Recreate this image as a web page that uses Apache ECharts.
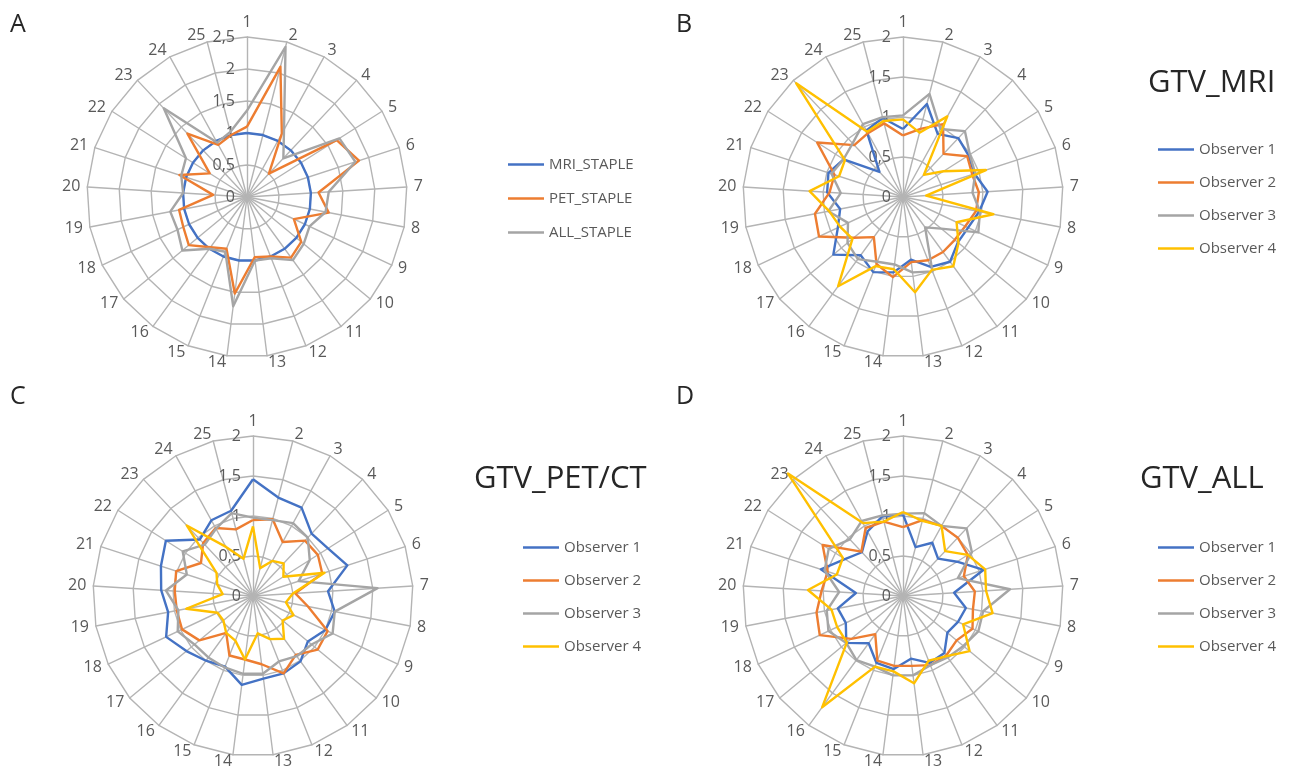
<!DOCTYPE html>
<html>
<head>
<meta charset="utf-8">
<script src="https://cdn.jsdelivr.net/npm/echarts@6/dist/echarts.min.js"></script>
<style>
  html, body { margin: 0; padding: 0; background: #fff; }
  #main { width: 1289px; height: 767px; }
</style>
</head>
<body>
<div id="main"></div>
<script>
var cases = ['1','2','3','4','5','6','7','8','9','10','11','12','13','14','15','16','17','18','19','20','21','22','23','24','25'];

// A - STAPLE
var mriStaple = [1,1,1,1,1,1,1,1,1,1,1,1,1,1,1,1,1,1,1,1,1,1,1,1,1];
var petStaple = [1.1,2.1,1.13,0.5,1.66,1.84,1.12,1.3,0.81,1.1,1.17,1.0,0.95,1.52,0.87,0.97,1.18,1.1,1.08,0.53,1.11,0.69,1.36,0.93,1.0];
var allStaple = [1.35,2.42,1.2,0.83,1.71,1.78,1.28,1.25,1.08,1.15,1.22,1.03,1.0,1.72,0.92,1.0,1.31,1.2,1.22,1.0,1.08,1.13,1.9,0.97,1.05];

// B - GTV_MRI
var mriObs1 = [0.85,1.2,0.9,1.01,0.97,0.94,1.06,0.97,0.9,0.89,1.0,0.94,0.79,0.95,1.01,0.9,1.13,0.9,0.8,0.95,0.98,0.88,0.43,0.95,1.02];
var mriObs2 = [0.77,0.88,1.04,0.74,0.95,0.91,0.95,0.93,0.86,0.84,0.85,0.85,0.82,1.01,0.9,0.62,0.8,1.16,1.12,0.92,0.9,1.27,0.89,0.91,0.95];
var mriObs3 = [1.02,1.33,0.97,1.13,0.99,0.95,0.87,0.98,1.04,0.62,0.47,1.0,0.95,0.85,0.87,0.96,0.9,0.76,0.95,0.78,0.94,0.88,0.92,1.04,1.03];
var mriObs4 = [0.97,0.83,1.15,0.38,0.6,1.09,0.29,1.15,0.74,0.9,1.07,0.98,1.2,0.91,0.93,1.38,0.82,0.87,0.94,1.17,0.84,0.86,1.95,0.93,0.98];

// C - GTV_PET/CT
var petObs1 = [1.46,1.27,1.26,1.07,1.11,1.24,0.94,1.04,1.0,0.89,1.01,1.04,1.04,1.12,0.95,1.0,1.08,1.2,1.08,1.15,1.21,1.29,0.97,1.08,1.1];
var petObs2 = [0.95,0.99,0.77,0.95,0.96,0.91,0.53,0.7,1.03,1.05,0.91,1.04,0.86,0.8,0.8,0.57,0.87,0.98,0.97,0.98,1.01,0.77,0.91,0.97,0.86];
var petObs3 = [0.98,0.98,1.04,1.0,0.84,0.6,1.56,1.04,1.1,0.95,0.93,0.88,0.98,0.98,0.96,0.95,0.95,1.04,0.95,1.09,0.87,1.04,0.88,0.96,1.07];
var petObs4 = [0.87,0.36,0.5,0.56,0.45,0.94,0.5,0.42,0.56,0.48,0.66,0.58,0.47,0.8,0.6,0.57,0.48,0.49,0.85,0.38,0.47,0.54,1.21,0.7,0.48];

// D - GTV_ALL
var allObs1 = [1.02,0.63,0.76,0.64,0.8,1.06,0.64,0.8,0.76,0.72,0.88,0.9,0.79,0.92,0.9,0.73,0.92,0.79,0.83,0.59,1.08,0.86,0.75,0.92,1.03];
var allObs2 = [0.86,0.98,1.0,1.0,0.96,0.8,0.9,0.89,0.96,0.87,0.92,0.93,0.88,0.88,0.87,0.59,0.84,1.15,1.1,1.02,0.99,1.19,0.76,0.97,0.96];
var allObs3 = [1.03,1.07,1.0,1.16,1.02,0.72,1.34,1.02,1.04,0.98,0.95,0.93,1.0,1.0,0.95,0.99,0.92,1.03,0.97,0.8,1.03,1.1,0.97,1.07,1.04];
var allObs4 = [1.05,0.97,1.0,0.77,0.96,1.08,1.04,1.14,0.83,1.08,0.93,0.87,1.1,0.95,0.95,1.72,0.91,0.91,0.91,1.19,0.87,0.89,2.1,1.04,0.96];

var observers = ['Observer 1','Observer 2','Observer 3','Observer 4'];
var staples = ['MRI_STAPLE','PET_STAPLE','ALL_STAPLE'];
var colors = ['#4472C4','#ED7D31','#A5A5A5','#FFC000'];

var font = '"Open Sans", sans-serif';
var textColor = '#595959';
var gridColor = '#b4b4b4';

// echarts radar runs counter-clockwise, Excel runs clockwise: 1, 25, 24 ... 2
var order = [0];
for (var i = cases.length - 1; i > 0; i--) order.push(i);
function reorder(arr) { return order.map(function (i) { return arr[i]; }); }

function makeRadar(center, max) {
    return {
        center: center,
        radius: 160,
        startAngle: 90,
        shape: 'polygon',
        splitNumber: Math.round(max / 0.5),
        indicator: order.map(function (i, k) {
            var ind = { name: cases[i], min: 0, max: max };
            if (k === 0) ind.axisLabel = { show: true };
            return ind;
        }),
        axisName: { color: textColor, fontSize: 16, fontFamily: font },
        nameGap: 7,
        axisLine: { lineStyle: { color: gridColor, width: 1.4 } },
        splitLine: { lineStyle: { color: gridColor, width: 1.4 } },
        splitArea: { show: false },
        axisTick: { show: false },
        axisLabel: {
            show: false,
            color: textColor,
            fontSize: 16,
            fontFamily: font,
            margin: 12,
            formatter: function (v) { return String(v).replace('.', ','); }
        }
    };
}

function makeSeries(radarIndex, names, lists) {
    return lists.map(function (vals, k) {
        return {
            type: 'radar',
            radarIndex: radarIndex,
            name: names[k],
            symbol: 'none',
            silent: true,
            itemStyle: { color: colors[k] },
            lineStyle: { color: colors[k], width: 2.4 },
            data: [{ name: names[k], value: reorder(vals) }]
        };
    });
}

function makeLegend(names, left, top, gap) {
    return {
        data: names,
        orient: 'vertical',
        left: left,
        top: top,
        icon: 'rect',
        itemWidth: 36,
        itemHeight: 2.5,
        itemGap: gap,
        selectedMode: false,
        textStyle: { color: textColor, fontSize: 15, fontFamily: font }
    };
}

function label(text, left, top, size) {
    return { text: text, left: left, top: top, padding: 0,
             textStyle: { color: '#262626', fontSize: size, fontWeight: 'normal', fontFamily: font } };
}

var chart = echarts.init(document.getElementById('main'));
chart.setOption({
    backgroundColor: '#fff',
    animation: false,
    title: [
        label('A', 10, 12, 25),
        label('B', 676, 12, 25),
        label('C', 10, 384, 25),
        label('D', 676, 384, 25),
        label('GTV_MRI', 1148, 68, 31),
        label('GTV_PET/CT', 474, 464, 31),
        label('GTV_ALL', 1140, 464, 31)
    ],
    legend: [
        makeLegend(staples, 503, 152, 19),
        makeLegend(observers, 1153, 137, 18),
        makeLegend(observers, 518, 535, 18),
        makeLegend(observers, 1153, 535, 18)
    ],
    radar: [
        makeRadar([247, 197], 2.5),
        makeRadar([903, 197], 2),
        makeRadar([253, 596], 2),
        makeRadar([903, 596], 2)
    ],
    series: [].concat(
        makeSeries(0, staples, [mriStaple, petStaple, allStaple]),
        makeSeries(1, observers, [mriObs1, mriObs2, mriObs3, mriObs4]),
        makeSeries(2, observers, [petObs1, petObs2, petObs3, petObs4]),
        makeSeries(3, observers, [allObs1, allObs2, allObs3, allObs4])
    )
});
</script>
</body>
</html>
